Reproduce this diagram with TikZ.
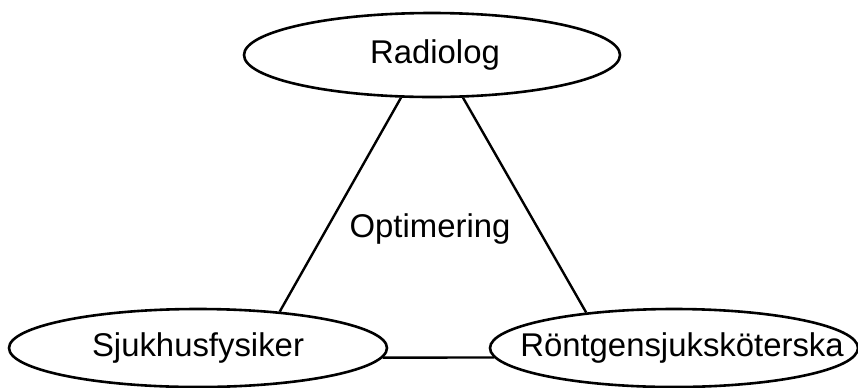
\documentclass[tikz,border=0pt]{standalone}
\usepackage{fontspec}
\setmainfont{Liberation Sans}
\usetikzlibrary{shapes.geometric}
\begin{document}
\begin{tikzpicture}[x=1bp,y=-1bp,
  role/.style={draw=black, line width=2.6bp, ellipse, inner sep=0pt, fill=white,
    font=\fontsize{33}{39}\selectfont},
  link/.style={draw=black, line width=2.4bp},
  lbl/.style={font=\fontsize{33}{39}\selectfont, inner sep=0pt}]
\useasboundingbox (0,0) rectangle (858,387);
\node[role, minimum width=376bp, minimum height=84bp] (rad) at (432,55) {\makebox[0pt]{\hspace{6bp}Radiolog}};
\node[role, minimum width=378bp, minimum height=78bp] (sjuk) at (198,348) {\makebox[0pt]{Sjukhusfysiker}};
\node[role, minimum width=368bp, minimum height=78bp] (ront) at (674,348) {\makebox[0pt]{\hspace{16bp}Röntgensjuksköterska}};
\node[lbl] (opt) at (430,229) {Optimering};
\draw[link] (rad.234) -- (sjuk.24);
\draw[link] (rad.306) -- (ront.158);
\draw[link] (sjuk.-3) -- (ront.183);
\end{tikzpicture}
\end{document}
